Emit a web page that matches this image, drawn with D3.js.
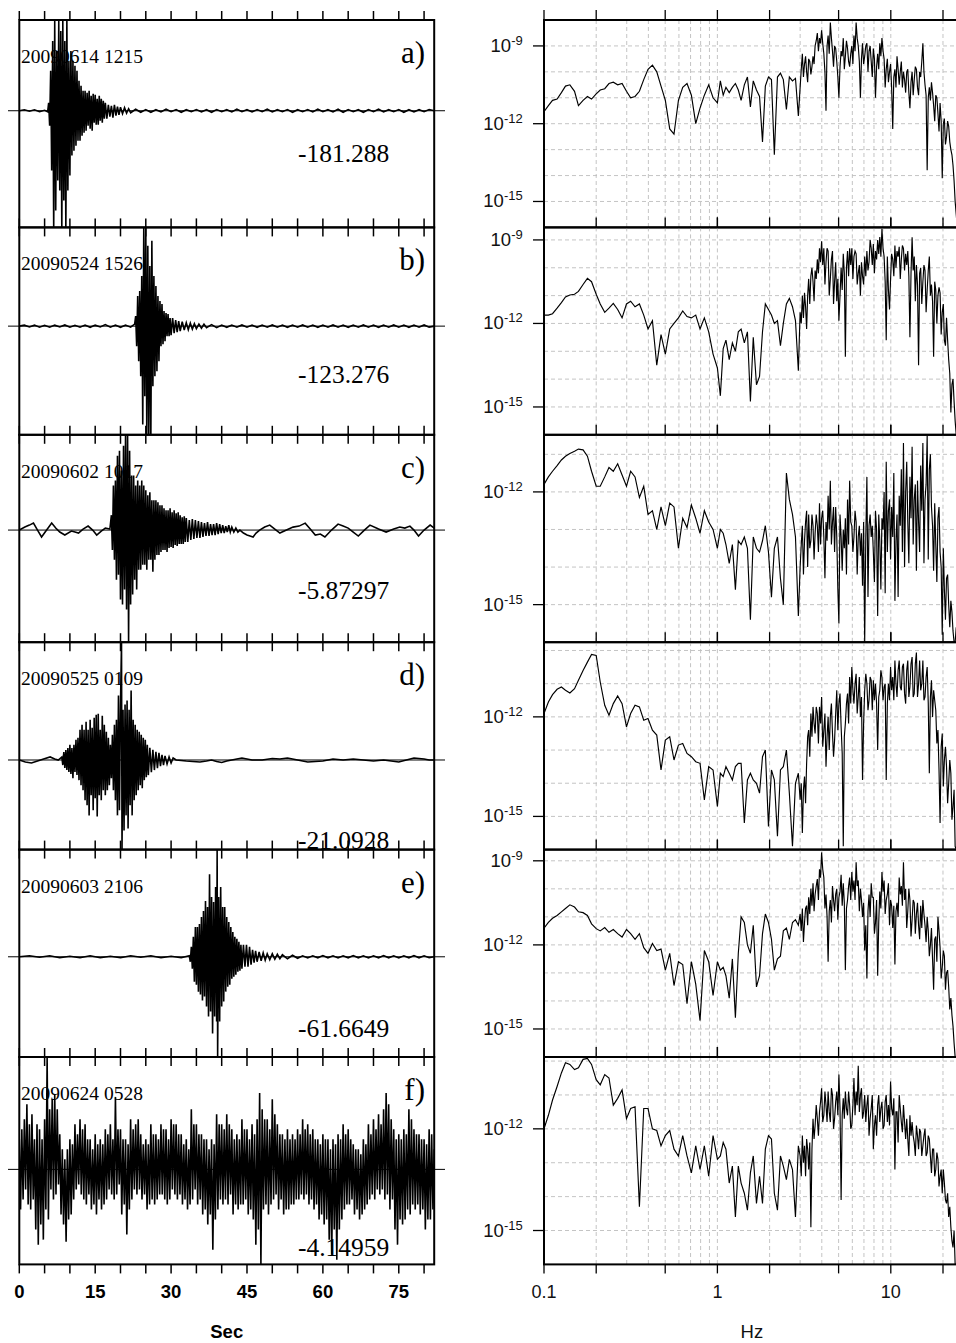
<!DOCTYPE html>
<html><head><meta charset="utf-8">
<script src="https://cdn.jsdelivr.net/npm/d3@7"></script>
<style>body{margin:0;background:#fff}svg{display:block}</style>
</head><body>
<svg id="chart" width="956" height="1343"></svg>
<script>
// ---------------- DATA ----------------
const eventLabels = ["20090614 1215","20090524 1526","20090602 1017","20090525 0109","20090603 2106","20090624 0528"];
const panelLetters = ["a)","b)","c)","d)","e)","f)"];
const traceMins = ["-181.288","-123.276","-5.87297","-21.0928","-61.6649","-4.14959"];
const secTicks = [0,15,30,45,60,75];
const hzTicks = [0.1,1,10];
const hzMinorTicks = [0.1,0.2,0.5,1,2,5,10,20];
const hzGrid = [0.2,0.3,0.4,0.5,0.6,0.7,0.8,0.9,1,2,3,4,5,6,7,8,9,10,20];

// amplitude range of each seismogram panel (normalised units)
const ampTop    = [0.91, 0.984, 0.96, 1.17, 1.077, 1.12];
const ampBottom = [-1.17, -1.083, -1.13, -0.89, -1.007, -0.947];
// log10 range of each spectrum panel
const specTop = [-8, -8.55, -10.48, -9.75, -8.6, -9.88];
const specBottom = -16;

// seismograms: [time s, amplitude]
const traceA = [[0,0],[1,0.01],[2,-0.005],[3,0.01],[4,-0.01],[5,0.005],[5.6,-0.01],[5.8,0.08],[6.0,-0.15],[6.2,0.4],[6.4,-0.6],[6.6,0.7],[6.8,-1.2],[7.0,0.9],[7.2,-1.0],[7.4,0.6],[7.6,-0.7],[7.8,0.9],[8.0,-0.8],[8.2,0.8],[8.4,-1.2],[8.6,0.9],[8.8,-0.9],[9.0,0.7],[9.2,-1.2],[9.4,0.9],[9.6,-0.8],[9.8,0.5],[10.0,-0.65],[10.2,0.6],[10.4,-0.45],[10.6,0.5],[10.8,-0.4],[11.0,0.45],[11.2,-0.35],[11.4,0.4],[11.6,-0.3],[11.8,0.3],[12.0,-0.3],[12.2,0.25],[12.4,-0.25],[12.6,0.2],[12.8,-0.22],[13.0,0.2],[13.2,-0.2],[13.4,0.18],[13.6,-0.15],[13.8,0.2],[14.0,-0.18],[14.2,0.15],[14.4,-0.2],[14.6,0.17],[14.8,-0.12],[15.0,0.16],[15.2,-0.14],[15.4,0.12],[15.6,-0.14],[15.8,0.15],[16.0,-0.1],[16.2,0.12],[16.4,-0.12],[16.6,0.1],[16.8,-0.08],[17.0,0.08],[17.3,-0.08],[17.6,0.06],[17.9,-0.06],[18.2,0.05],[18.5,-0.07],[18.8,0.06],[19.1,-0.05],[19.4,0.04],[19.7,-0.04],[20.0,0.035],[20.4,-0.03],[20.8,0.03],[21.2,-0.025],[21.6,0.02],[22.0,-0.02],[23,0.015],[24,-0.015],[25,0.012],[26,-0.015],[27,0.01],[28,-0.012],[29,0.015],[30,-0.01],[31,0.012],[32,-0.015],[33,0.01],[34,-0.01],[35,0.012],[36,-0.012],[37,0.01],[38,-0.015],[39,0.012],[40,-0.01],[41,0.01],[42,-0.012],[43,0.015],[44,-0.01],[45,0.01],[46,-0.012],[47,0.012],[48,-0.01],[49,0.015],[50,-0.012],[51,0.01],[52,-0.01],[53,0.012],[54,-0.015],[55,0.01],[56,-0.01],[57,0.012],[58,-0.012],[59,0.015],[60,-0.01],[61,0.01],[62,-0.012],[63,0.015],[64,-0.015],[65,0.012],[66,-0.01],[67,0.01],[68,-0.015],[69,0.012],[70,-0.01],[71,0.015],[72,-0.012],[73,0.01],[74,-0.01],[75,0.012],[76,-0.015],[77,0.01],[78,-0.012],[79,0.01],[80,-0.01],[81,0.012],[82,0]];

const traceB = [[0,0],[1,0.01],[2,-0.008],[3,0.01],[4,-0.01],[5,0.008],[6,-0.01],[7,0.01],[8,-0.008],[9,0.012],[10,-0.01],[11,0.008],[12,-0.01],[13,0.01],[14,-0.012],[15,0.01],[16,-0.008],[17,0.015],[18,-0.01],[19,0.01],[20,-0.012],[21,0.01],[22,-0.01],[22.8,0.02],[23.0,0.1],[23.2,-0.2],[23.4,0.3],[23.6,-0.35],[23.8,0.35],[24.0,-0.5],[24.2,0.5],[24.4,-0.98],[24.6,0.99],[24.8,-0.7],[25.0,0.99],[25.2,-1.1],[25.4,0.8],[25.6,-1.1],[25.8,0.6],[26.0,-1.1],[26.2,0.85],[26.4,-0.6],[26.6,0.5],[26.8,-0.5],[27.0,0.4],[27.2,-0.45],[27.4,0.3],[27.6,-0.35],[27.8,0.25],[28.0,-0.2],[28.2,0.22],[28.4,-0.18],[28.6,0.15],[28.8,-0.15],[29.0,0.13],[29.2,-0.1],[29.4,0.12],[29.6,-0.1],[29.8,0.08],[30.0,-0.09],[30.3,0.08],[30.6,-0.07],[30.9,0.06],[31.2,-0.06],[31.5,0.05],[31.8,-0.05],[32.2,0.045],[32.6,-0.04],[33.0,0.035],[33.4,-0.035],[33.8,0.03],[34.2,-0.03],[34.6,0.025],[35.0,-0.025],[35.5,0.02],[36.0,-0.02],[36.5,0.02],[37,-0.015],[38,0.015],[39,-0.015],[40,0.01],[41,-0.012],[42,0.01],[43,-0.01],[44,0.012],[45,-0.01],[46,0.01],[47,-0.012],[48,0.01],[49,-0.01],[50,0.012],[51,-0.01],[52,0.01],[53,-0.012],[54,0.01],[55,-0.01],[56,0.012],[57,-0.01],[58,0.01],[59,-0.012],[60,0.01],[61,-0.01],[62,0.012],[63,-0.01],[64,0.01],[65,-0.012],[66,0.01],[67,-0.01],[68,0.012],[69,-0.01],[70,0.01],[71,-0.012],[72,0.01],[73,-0.01],[74,0.012],[75,-0.01],[76,0.01],[77,-0.012],[78,0.01],[79,-0.01],[80,0.012],[81,-0.01],[82,0]];

const traceC = [[0,0],[1.1,0.03],[2.0,0.05],[2.8,0.07],[3.6,0.0],[4.4,-0.07],[5.4,0.0],[6.4,0.07],[7.2,0.02],[8.0,-0.02],[9.0,-0.05],[10.3,-0.01],[11.0,-0.02],[11.7,-0.03],[12.6,0.01],[13.6,0.04],[14.5,0.0],[15.3,-0.05],[16.2,-0.01],[17.0,0.02],[17.9,0.01],[18.2,0.15],[18.4,-0.2],[18.6,0.45],[18.8,-0.3],[19.0,0.5],[19.2,-0.5],[19.4,0.75],[19.6,-0.45],[19.8,0.8],[20.0,-0.7],[20.2,0.6],[20.4,-0.75],[20.6,0.85],[20.8,-0.6],[21.0,0.96],[21.2,-0.8],[21.4,0.96],[21.6,-1.13],[21.8,0.8],[22.0,-0.75],[22.2,0.55],[22.4,-0.65],[22.6,0.55],[22.8,-0.5],[23.0,0.45],[23.2,-0.6],[23.4,0.5],[23.6,-0.4],[23.8,0.45],[24.0,-0.4],[24.2,0.5],[24.4,-0.35],[24.6,0.45],[24.8,-0.35],[25.0,0.4],[25.2,-0.4],[25.4,0.35],[25.6,-0.3],[25.8,0.38],[26.0,-0.3],[26.2,0.3],[26.4,-0.42],[26.6,0.3],[26.8,-0.3],[27.0,0.3],[27.2,-0.25],[27.4,0.28],[27.6,-0.25],[27.8,0.25],[28.0,-0.22],[28.2,0.25],[28.4,-0.2],[28.6,0.22],[28.8,-0.2],[29.0,0.2],[29.2,-0.22],[29.4,0.2],[29.6,-0.18],[29.8,0.22],[30.0,-0.17],[30.2,0.18],[30.4,-0.18],[30.6,0.2],[30.8,-0.15],[31.0,0.17],[31.2,-0.16],[31.4,0.18],[31.6,-0.14],[31.8,0.15],[32.0,-0.14],[32.2,0.13],[32.4,-0.14],[32.6,0.14],[32.8,-0.12],[33.0,0.12],[33.3,-0.12],[33.6,0.1],[33.9,-0.1],[34.2,0.11],[34.5,-0.09],[34.8,0.1],[35.1,-0.08],[35.4,0.09],[35.7,-0.08],[36.0,0.08],[36.3,-0.07],[36.6,0.07],[36.9,-0.06],[37.2,0.08],[37.5,-0.06],[37.8,0.06],[38.1,-0.05],[38.4,0.06],[38.7,-0.05],[39.0,0.07],[39.3,-0.04],[39.6,0.06],[39.9,-0.03],[40.2,0.05],[40.5,-0.03],[40.8,0.04],[41.1,-0.02],[41.4,0.05],[41.7,-0.02],[42.0,0.03],[42.4,-0.02],[42.8,0.02],[43.2,-0.02],[43.6,0.0],[44.3,-0.03],[45.0,-0.05],[45.6,-0.06],[46.2,-0.07],[46.8,-0.03],[47.5,0.0],[48.5,0.03],[49.5,0.05],[50.5,0.01],[51.5,-0.03],[52.8,0.0],[54.1,0.03],[55.3,0.04],[56.5,0.07],[57.5,0.01],[58.5,-0.05],[59.5,-0.04],[60.4,-0.07],[61.7,0.0],[63.0,0.06],[64.0,0.04],[65.0,0.02],[66.0,-0.02],[67.0,-0.06],[68.2,0.0],[69.3,0.05],[71.0,0.01],[72.5,-0.02],[74.0,0.01],[75.2,0.03],[76.2,0.02],[77.2,0.04],[78.0,0.0],[78.9,-0.06],[80.0,0.0],[81.2,0.05],[82,0.02]];

const traceD = [[0,0],[1.2,-0.02],[2.4,-0.03],[3.6,-0.01],[4.8,0.01],[6.1,0.03],[7.0,0.01],[7.7,0.0],[8.4,0.03],[8.6,-0.05],[8.8,0.08],[9.0,-0.08],[9.2,0.1],[9.4,-0.1],[9.6,0.12],[9.8,-0.12],[10.0,0.15],[10.2,-0.14],[10.4,0.12],[10.6,-0.18],[10.8,0.15],[11.0,-0.12],[11.2,0.2],[11.4,-0.15],[11.6,0.22],[11.8,-0.2],[12.0,0.3],[12.2,-0.25],[12.4,0.35],[12.6,-0.3],[12.8,0.3],[13.0,-0.4],[13.2,0.38],[13.4,-0.45],[13.6,0.3],[13.8,-0.55],[14.0,0.4],[14.2,-0.35],[14.4,0.32],[14.6,-0.5],[14.8,0.42],[15.0,-0.38],[15.2,0.45],[15.4,-0.56],[15.6,0.46],[15.8,-0.35],[16.0,0.3],[16.2,-0.4],[16.4,0.44],[16.6,-0.3],[16.8,0.35],[17.0,-0.35],[17.2,0.28],[17.4,-0.3],[17.6,0.22],[17.8,-0.25],[18.0,0.15],[18.2,-0.18],[18.4,0.25],[18.6,-0.3],[18.8,0.35],[19.0,-0.4],[19.2,0.4],[19.4,-0.55],[19.6,0.64],[19.8,-0.5],[20.0,0.55],[20.2,1.17],[20.3,-0.89],[20.5,0.5],[20.7,-0.7],[20.9,0.55],[21.1,-0.55],[21.3,0.59],[21.5,-0.68],[21.7,0.5],[21.9,-0.45],[22.1,0.69],[22.3,-0.55],[22.5,0.4],[22.7,-0.4],[22.9,0.35],[23.1,-0.35],[23.3,0.3],[23.5,-0.3],[23.7,0.28],[23.9,-0.25],[24.1,0.25],[24.3,-0.28],[24.5,0.22],[24.7,-0.2],[24.9,0.2],[25.1,-0.17],[25.3,0.15],[25.5,-0.15],[25.8,0.12],[26.1,-0.12],[26.4,0.1],[26.7,-0.1],[27.0,0.08],[27.3,-0.08],[27.6,0.07],[27.9,-0.06],[28.2,0.05],[28.5,-0.05],[28.8,0.04],[29.2,-0.04],[29.6,0.03],[30.0,-0.03],[30.4,0.02],[31,0.0],[32,-0.005],[33,-0.01],[34.3,-0.015],[35.7,-0.02],[37,-0.01],[38,0.0],[39,-0.015],[40,-0.025],[41,-0.01],[42,0.0],[43,0.01],[44,0.02],[45,0.01],[46,0.0],[48,0.0],[50,0.015],[51.5,0.01],[53,0.02],[54,0.01],[55,0.0],[56,-0.01],[57,-0.02],[58.5,-0.015],[60,-0.01],[62,0.01],[64,0.0],[66,0.01],[68,0.0],[70,-0.01],[72,0.0],[73.5,-0.01],[75,-0.02],[76.5,0.0],[78,0.02],[80,0.01],[81,0.0],[82,0]];

const traceE = [[0,0],[2,0.01],[4,-0.005],[6,0.01],[8,-0.01],[10,0.005],[12,-0.01],[14,0.01],[16,-0.01],[18,0.005],[20,-0.01],[22,0.01],[24,-0.005],[26,0.01],[28,-0.01],[30,0.005],[32,-0.01],[33.6,0.01],[33.8,-0.05],[34.0,0.1],[34.2,-0.12],[34.4,0.2],[34.6,-0.25],[34.8,0.3],[35.0,-0.28],[35.2,0.3],[35.4,-0.35],[35.6,0.33],[35.8,-0.38],[36.0,0.4],[36.2,-0.44],[36.4,0.46],[36.6,-0.4],[36.8,0.56],[37.0,-0.5],[37.2,0.5],[37.4,-0.6],[37.6,0.83],[37.8,-0.55],[38.0,0.6],[38.2,-0.77],[38.4,0.55],[38.6,-0.6],[38.8,0.7],[39.0,-0.65],[39.1,1.08],[39.2,-1.0],[39.4,0.6],[39.6,-0.65],[39.8,0.7],[40.0,-0.5],[40.2,0.5],[40.4,-0.45],[40.6,0.5],[40.8,-0.35],[41.0,0.4],[41.2,-0.3],[41.4,0.35],[41.6,-0.28],[41.8,0.3],[42.0,-0.22],[42.2,0.25],[42.4,-0.2],[42.6,0.2],[42.8,-0.18],[43.0,0.18],[43.2,-0.15],[43.4,0.15],[43.6,-0.14],[43.8,0.12],[44.0,-0.12],[44.3,0.12],[44.6,-0.1],[44.9,0.12],[45.2,-0.1],[45.5,0.1],[45.8,-0.08],[46.1,0.07],[46.4,-0.06],[46.7,0.06],[47.0,-0.05],[47.4,0.05],[47.8,-0.04],[48.2,0.04],[48.6,-0.035],[49.0,0.03],[49.5,-0.03],[50,0.03],[50.5,-0.025],[51,0.025],[51.5,-0.02],[52,0.02],[53,-0.02],[54,0.015],[55,-0.015],[56,0.01],[57,-0.012],[58,0.01],[59,-0.01],[60,0.012],[61,-0.01],[62,0.01],[63,-0.012],[64,0.01],[65,-0.01],[66,0.012],[67,-0.01],[68,0.01],[69,-0.012],[70,0.01],[71,-0.01],[72,0.012],[73,-0.01],[74,0.01],[75,-0.012],[76,0.01],[77,-0.01],[78,0.012],[79,-0.01],[80,0.01],[81,-0.01],[82,0]];

// trace f: background noise, one value every traceFDt seconds
const traceFDt = 0.25;
const traceF = [
.3,-.4,.4,-.3, .5,-.2,.65,-.35, .45,-.4,.55,-.3, .3,-.6,.45,-.75, .4,-.55,.3,-.7,
.5,-.4,1.12,-.5, .6,-.2,.7,-.3, .75,-.25,.6,-.15, .35,-.45,.2,-.55, .1,-.72,.2,-.5,
.3,-.45,.25,-.3, .45,-.2,.35,-.15, .5,-.25,.4,-.3, .45,-.35,.3,-.25, .3,-.4,.2,-.35,
.35,-.45,.25,-.3, .3,-.4,.25,-.35, .4,-.3,.35,-.2, .45,-.25,.3,-.3, .72,-.25,.4,-.15,
.4,-.45,.3,-.35, .3,-.65,.25,-.4, .5,-.3,.4,-.2, .45,-.25,.5,-.2, .35,-.3,.25,-.25,
.3,-.4,.25,-.35, .45,-.3,.35,-.35, .35,-.3,.3,-.25, .45,-.25,.4,-.3, .4,-.35,.3,-.3,
.5,-.2,.45,-.25, .45,-.3,.35,-.25, .35,-.35,.25,-.3, .3,-.4,.2,-.35, .6,-.3,.45,-.2,
.45,-.35,.35,-.3, .35,-.45,.3,-.4, .3,-.55,.2,-.45, .3,-.8,.25,-.5, .55,-.4,.45,-.3,
.45,-.35,.4,-.3, .55,-.35,.45,-.25, .4,-.45,.3,-.35, .35,-.4,.3,-.35, .5,-.35,.4,-.3,
.4,-.45,.3,-.4, .45,-.5,.35,-.75, .5,-.6,.76,-.95, .6,-.4,.5,-.35, .5,-.45,.4,-.35,
.7,-.3,.55,-.25, .45,-.4,.35,-.3, .35,-.45,.3,-.4, .4,-.4,.3,-.35, .35,-.35,.3,-.3,
.4,-.3,.35,-.25, .5,-.3,.4,-.25, .45,-.35,.35,-.3, .4,-.4,.3,-.35, .3,-.5,.25,-.45,
.35,-.55,.3,-.5, .3,-.7,.2,-.85, .3,-.6,.25,-.9, .35,-.6,.3,-.5, .45,-.4,.35,-.35,
.4,-.35,.3,-.3, .25,-.45,.2,-.4, .2,-.5,.15,-.45, .3,-.4,.25,-.35, .45,-.3,.35,-.25,
.5,-.3,.4,-.2, .55,-.25,.45,-.2, .6,-.3,.76,-.25, .65,-.4,.5,-.3, .4,-.6,.3,-.75,
.35,-.5,.3,-.55, .4,-.5,.35,-.4, .6,-.45,.5,-.35, .4,-.4,.35,-.35, .35,-.45,.3,-.4,
.3,-.6,.25,-.5, .4,-.5,.35,-.4, .2];

// spectra: frequency list (Hz) and log10 amplitude per panel
const freqs = [
0.1,0.106,0.112,0.119,0.126,0.133,0.141,0.15,0.158,0.168,
0.178,0.188,0.2,0.211,0.224,0.237,0.251,0.266,0.282,0.299,
0.316,0.335,0.355,0.376,0.398,0.422,0.447,0.473,0.501,0.531,
0.562,0.596,0.631,0.668,0.708,0.75,0.794,0.841,0.891,0.944,
1,1.04,1.08,1.12,1.17,1.22,1.27,1.32,1.37,1.43,
1.49,1.55,1.61,1.68,1.75,1.82,1.89,1.97,2.05,2.13,
2.22,2.31,2.4,2.5,2.6,2.71,2.82,2.93,3,3.09,
3.18,3.27,3.36,3.46,3.56,3.66,3.77,3.88,3.99,4.11,
4.23,4.35,4.48,4.61,4.74,4.88,5.02,5.17,5.32,5.47,
5.63,5.79,5.96,6.13,6.31,6.49,6.68,6.87,7.07,7.28,
7.49,7.71,7.93,8.16,8.4,8.64,8.89,9.15,9.41,9.69,
9.97,10.26,10.56,10.86,11.18,11.5,11.83,12.18,12.53,12.89,
13.27,13.65,14.05,14.46,14.87,15.31,15.75,16.21,16.68,17.16,
17.66,18.17,18.7,19.24,19.8,20.37,20.96,21.57,22.2,22.84,
23.5,24.18,24.88];
// extra high-frequency samples (between the 3-25 Hz ones above)
const freqsMid = [
3.045,3.135,3.225,3.315,3.41,3.51,3.61,3.715,3.825,3.935,
4.05,4.17,4.29,4.415,4.545,4.675,4.81,4.95,5.095,5.245,
5.395,5.55,5.71,5.875,6.045,6.22,6.4,6.585,6.775,6.97,
7.175,7.385,7.6,7.82,8.045,8.28,8.52,8.765,9.02,9.28,
9.55,9.83,10.11,10.41,10.71,11.02,11.34,11.665,12.005,12.355,
12.71,13.08,13.46,13.85,14.255,14.665,15.09,15.53,15.98,16.445,
16.92,17.41,17.915,18.435,18.97,19.52,20.085,20.665,21.265,21.885,
22.52,23.17,23.84,24.53];

const specA = [
-11.54,-11.3,-11.1,-11.05,-10.8,-10.55,-10.5,-10.75,-11.3,-11.1,
-10.95,-11.05,-10.85,-10.7,-10.65,-10.45,-10.4,-10.5,-10.45,-10.75,
-11.0,-10.95,-10.75,-10.3,-9.9,-9.74,-10.0,-10.55,-11.1,-12.2,
-12.4,-11.1,-10.6,-10.45,-10.9,-12.0,-11.4,-10.9,-10.5,-11.0,
-11.2,-10.35,-10.9,-10.6,-10.8,-10.6,-10.45,-10.7,-11.1,-10.5,
-10.2,-11.35,-10.35,-10.7,-10.95,-12.7,-10.55,-10.2,-10.3,-13.2,
-10.2,-10.05,-10.3,-11.45,-10.2,-10.35,-10.25,-11.7,-10.6,-9.3,
-9.7,-10.0,-9.5,-10.1,-9.4,-9.0,-8.5,-8.7,-8.4,-9.3,
-11.5,-8.6,-8.1,-9.2,-9.0,-9.6,-11.0,-9.2,-8.7,-9.4,
-9.1,-9.8,-9.0,-8.6,-8.1,-9.0,-11.0,-8.9,-9.4,-8.9,
-9.2,-9.6,-9.1,-11.0,-9.3,-8.9,-8.7,-9.5,-9.9,-10.4,
-9.7,-12.2,-9.9,-9.4,-10.5,-9.6,-10.0,-10.8,-9.9,-11.4,
-10.0,-10.3,-9.9,-10.9,-10.2,-8.9,-10.5,-13.8,-10.6,-10.4,
-11.3,-10.9,-11.6,-11.2,-14.1,-11.8,-12.5,-12.1,-13.0,-13.6,
-15.0,-16.0,-16.0];
const specAMid = [
-9.9,-10.2,-9.4,-10.4,-9.6,-9.8,-9.7,-8.8,-9.2,-8.9,
-8.9,-10.0,-9.0,-9.3,-8.7,-9.8,-9.1,-10.2,-9.8,-9.4,
-9.9,-8.8,-9.6,-9.3,-9.7,-9.2,-8.7,-9.6,-9.5,-9.7,
-9.0,-10.0,-9.0,-10.2,-9.5,-9.8,-9.9,-9.4,-9.2,-10.6,
-9.5,-10.0,-10.6,-10.2,-10.6,-9.9,-10.0,-10.6,-10.3,-10.0,
-10.8,-10.4,-10.9,-9.8,-10.6,-10.0,-9.6,-10.0,-10.9,-11.0,
-11.1,-10.8,-11.9,-11.0,-12.3,-11.9,-12.0,-12.8,-11.9,-12.7,
-13.2,-14.2,-15.5,-16];

const specB = [
-11.7,-11.7,-11.65,-11.45,-11.25,-11.05,-10.98,-10.95,-10.85,-10.6,
-10.38,-10.5,-10.95,-11.3,-11.6,-11.45,-11.28,-11.5,-11.8,-11.3,
-11.2,-11.4,-11.3,-11.7,-12.2,-11.9,-13.5,-12.4,-13.1,-12.2,
-12.0,-11.8,-11.55,-11.75,-11.8,-11.7,-12.2,-11.8,-12.3,-13.1,
-13.6,-14.6,-12.9,-12.6,-13.3,-12.7,-13.0,-12.3,-12.2,-12.7,
-12.3,-14.8,-12.5,-14.2,-13.9,-12.3,-11.3,-11.5,-11.7,-12.0,
-11.9,-12.8,-12.0,-11.3,-11.1,-11.4,-11.9,-13.7,-11.6,-11.0,
-10.9,-12.2,-10.4,-10.3,-10.5,-10.1,-9.7,-9.3,-9.05,-9.3,
-9.8,-9.4,-10.4,-9.4,-10.5,-11.2,-11.9,-10.0,-9.5,-13.2,
-9.4,-9.3,-9.3,-9.6,-9.5,-10.2,-11.0,-10.3,-9.6,-9.4,
-9.8,-9.3,-9.15,-9.4,-9.0,-8.9,-8.6,-9.6,-12.6,-10.8,
-10.4,-9.7,-9.2,-9.4,-9.25,-9.7,-9.3,-9.5,-9.4,-12.5,
-8.9,-9.6,-9.9,-13.5,-10.0,-10.5,-10.1,-10.8,-9.6,-10.6,
-13.2,-10.8,-11.0,-10.9,-11.6,-12.6,-11.8,-13.3,-15.2,-14.0,
-15.5,-16,-16];
const specBMid = [
-12.0,-11.8,-11.4,-11.0,-11.3,-10.0,-11.2,-10.4,-10.2,-9.8,
-9.9,-10.6,-9.3,-11.0,-9.7,-11.3,-9.8,-10.4,-11.0,-10.8,
-10.2,-10.0,-10.3,-9.9,-10.4,-9.4,-10.6,-9.9,-9.8,-10.6,
-10.3,-10.1,-9.0,-9.9,-10.2,-9.7,-9.5,-9.6,-9.3,-10.5,
-9.6,-11.5,-9.5,-10.3,-10.0,-9.6,-10.4,-9.2,-10.1,-9.9,
-10.3,-10.2,-10.1,-11.2,-10.6,-10.2,-11.3,-9.9,-11.6,-10.1,
-11.0,-11.2,-10.5,-12.0,-10.7,-12.4,-11.3,-12.8,-12.6,-13.8,
-14.2,-14.8,-16,-16];

const specC = [
-11.8,-11.6,-11.45,-11.3,-11.15,-11.05,-10.98,-10.92,-10.86,-10.88,
-11.05,-11.45,-11.85,-11.85,-11.6,-11.35,-11.45,-11.25,-11.55,-11.85,
-11.45,-11.6,-12.15,-11.85,-12.6,-12.5,-13.0,-12.4,-12.9,-12.3,
-12.4,-13.5,-12.7,-12.95,-12.35,-12.7,-13.1,-12.5,-12.8,-13.0,
-13.5,-13.0,-13.1,-13.4,-13.9,-13.4,-14.6,-13.3,-13.4,-13.2,
-13.5,-15.4,-13.2,-13.5,-13.6,-13.3,-12.9,-13.6,-14.8,-13.5,
-13.2,-14.3,-15.0,-11.5,-12.2,-12.6,-13.2,-15.3,-14.0,-12.9,
-13.3,-12.5,-12.6,-13.3,-12.9,-13.1,-12.9,-12.3,-12.7,-13.2,
-12.8,-12.1,-11.7,-12.8,-13.6,-13.2,-15.5,-13.2,-13.0,-12.7,
-12.2,-11.7,-12.9,-13.2,-12.8,-13.2,-13.7,-14.5,-16.0,-11.6,
-12.9,-13.2,-13.6,-12.5,-15.3,-13.3,-12.7,-12.0,-11.2,-12.5,
-13.8,-13.2,-14.9,-12.6,-12.1,-11.4,-10.7,-12.0,-12.8,-11.6,
-10.8,-12.2,-14.1,-12.8,-11.3,-10.7,-12.2,-10.5,-11.4,-12.4,
-14.1,-13.4,-12.7,-13.6,-15.8,-14.6,-14.3,-15.0,-14.9,-15.7,
-16,-16,-16];
const specCMid = [
-13.4,-14.2,-12.8,-14.0,-13.5,-12.6,-13.8,-12.6,-13.6,-13.4,
-12.5,-14.3,-13.3,-13.0,-13.4,-12.4,-12.4,-14.6,-12.6,-14.1,
-13.5,-14.2,-13.4,-12.8,-13.6,-12.5,-14.2,-12.9,-13.1,-12.8,
-13.2,-14.8,-12.6,-12.9,-14.4,-13.0,-12.6,-14.6,-13.0,-14.7,
-13.6,-12.2,-12.4,-11.5,-13.3,-14.8,-12.9,-13.6,-14.0,-11.2,
-13.9,-12.7,-13.4,-11.8,-11.7,-13.6,-12.5,-13.9,-11.8,-13.8,
-11.0,-12.9,-12.3,-14.4,-12.4,-14.0,-13.5,-15.4,-14.2,-15.6,
-15.2,-16,-15.6,-16];

const specD = [
-11.9,-11.55,-11.33,-11.17,-11.1,-11.2,-11.28,-11.15,-10.9,-10.6,
-10.35,-10.12,-10.15,-10.95,-11.65,-11.95,-11.6,-11.37,-11.6,-12.3,
-11.9,-11.65,-11.7,-12.1,-12.05,-12.4,-12.55,-13.6,-12.7,-12.6,
-13.3,-12.85,-12.8,-13.1,-13.2,-13.35,-13.4,-14.5,-13.5,-13.6,
-14.7,-13.7,-13.8,-13.5,-13.7,-13.9,-13.5,-13.4,-13.4,-15.2,
-13.9,-13.7,-13.9,-14.0,-14.3,-13.2,-13.0,-15.3,-13.6,-13.9,
-15.6,-13.6,-13.5,-13.0,-14.3,-15.9,-14.0,-13.7,-14.5,-15.5,
-13.8,-13.4,-12.4,-11.9,-11.7,-12.5,-11.9,-11.7,-11.4,-12.4,
-13.5,-12.0,-12.0,-12.5,-12.7,-11.2,-11.6,-12.3,-15.9,-12.2,
-11.3,-10.8,-10.5,-11.6,-10.7,-11.4,-12.0,-13.9,-11.2,-11.0,
-11.5,-10.9,-10.9,-11.0,-13.0,-11.2,-10.8,-11.1,-13.9,-11.0,
-10.5,-10.8,-10.3,-11.4,-10.3,-11.2,-10.4,-11.6,-10.3,-11.1,
-10.2,-11.3,-10.06,-11.0,-11.2,-10.3,-11.4,-10.5,-13.7,-10.9,
-11.2,-11.8,-12.4,-15.2,-12.5,-13.3,-13.5,-14.0,-13.7,-14.7,
-15.9,-16,-16];
const specDMid = [
-14.0,-14.2,-14.6,-12.6,-13.2,-12.6,-12.2,-11.7,-12.8,-12.2,
-12.9,-11.9,-12.6,-13.0,-11.6,-13.2,-11.9,-12.4,-11.3,-13.1,
-12.6,-11.6,-12.2,-11.6,-11.2,-11.0,-11.9,-10.8,-11.4,-12.2,
-10.7,-11.8,-10.8,-11.8,-11.5,-11.6,-11.4,-10.6,-11.5,-11.0,
-11.6,-11.5,-11.2,-11.5,-11.0,-10.6,-11.1,-10.5,-11.3,-10.6,
-11.4,-10.4,-11.4,-10.4,-11.4,-10.3,-11.0,-11.5,-10.8,-11.6,
-11.4,-12.0,-11.5,-12.8,-13.6,-12.9,-14.1,-12.9,-14.6,-13.3,
-15.1,-14.2,-16,-16];

const specE = [
-11.4,-11.2,-11.05,-10.95,-10.82,-10.7,-10.57,-10.65,-10.82,-10.85,
-10.95,-11.25,-11.42,-11.5,-11.38,-11.55,-11.45,-11.6,-11.72,-11.45,
-11.6,-11.8,-11.6,-12.1,-12.3,-11.95,-12.2,-12.15,-12.9,-12.3,
-13.45,-12.6,-12.7,-14.1,-12.6,-13.4,-14.7,-12.2,-12.6,-13.8,
-12.6,-12.9,-12.8,-13.1,-13.9,-12.5,-14.6,-12.3,-11.0,-11.2,
-12.0,-12.3,-11.3,-13.5,-13.1,-11.6,-10.9,-11.2,-11.8,-12.9,
-12.5,-12.4,-11.5,-11.4,-11.8,-11.2,-11.1,-11.3,-10.9,-10.7,
-11.2,-10.6,-10.3,-10.0,-9.8,-10.2,-9.65,-9.3,-8.7,-9.6,
-10.2,-12.6,-10.4,-9.9,-10.8,-10.0,-10.3,-9.5,-9.8,-12.9,
-10.4,-9.6,-9.4,-9.7,-9.05,-9.7,-10.0,-11.0,-12.2,-13.2,
-10.2,-9.8,-10.3,-11.2,-13.1,-10.1,-9.4,-9.7,-10.4,-9.8,
-10.4,-11.4,-12.7,-10.5,-9.6,-9.9,-9.05,-10.0,-10.8,-10.4,
-11.1,-10.5,-10.9,-11.3,-10.6,-10.4,-11.3,-11.0,-12.4,-11.4,
-13.6,-11.7,-11.0,-12.1,-12.8,-12.4,-13.0,-13.5,-13.9,-14.9,
-16,-16,-16];
const specEMid = [
-11.5,-11.9,-10.7,-11.3,-10.9,-10.6,-10.8,-9.9,-10.4,-9.6,
-9.3,-10.7,-11.0,-10.8,-11.2,-10.4,-10.2,-11.1,-10.1,-10.6,
-10.5,-10.7,-9.9,-10.4,-10.1,-10.4,-9.9,-10.8,-10.4,-10.5,
-11.3,-10.8,-11.0,-10.3,-11.6,-10.4,-11.2,-10.7,-10.1,-10.9,
-10.2,-11.3,-10.6,-10.6,-10.8,-11.0,-10.2,-10.6,-10.4,-11.4,
-10.0,-11.7,-10.4,-11.6,-10.5,-11.8,-11.4,-10.9,-11.9,-11.5,
-12.0,-12.5,-11.8,-12.6,-11.5,-13.2,-12.2,-13.6,-12.9,-14.3,
-14.5,-15.5,-16,-16];

const specF = [
-12.0,-11.6,-11.15,-10.75,-10.35,-10.05,-10.1,-10.25,-10.2,-9.95,
-9.92,-10.1,-10.55,-10.7,-10.4,-10.5,-11.3,-11.1,-10.85,-11.7,
-11.4,-11.35,-14.3,-11.4,-11.4,-12.0,-12.05,-12.5,-12.2,-12.05,
-12.6,-12.8,-12.2,-12.8,-13.3,-12.5,-13.2,-12.5,-13.4,-12.2,
-12.9,-12.8,-12.4,-12.6,-13.6,-13.1,-14.6,-13.1,-13.6,-13.9,
-14.4,-13.3,-12.8,-14.2,-13.4,-14.2,-12.6,-12.2,-12.3,-13.9,
-14.4,-12.8,-13.1,-13.5,-12.9,-13.2,-14.6,-12.5,-12.8,-12.2,
-12.5,-12.3,-13.2,-14.9,-11.7,-11.9,-11.7,-11.5,-10.8,-11.6,
-11.3,-10.9,-11.8,-11.0,-11.7,-10.9,-10.4,-14.1,-11.1,-10.9,
-11.6,-11.3,-11.9,-10.5,-10.9,-10.14,-11.0,-11.7,-11.0,-11.3,
-12.2,-11.4,-12.6,-11.6,-11.3,-11.8,-11.2,-11.9,-11.0,-11.3,
-10.6,-11.6,-13.2,-11.5,-11.0,-11.8,-11.3,-12.3,-12.3,-11.6,
-11.8,-12.4,-11.9,-12.6,-12.1,-12.5,-12.0,-12.7,-12.3,-13.3,
-12.6,-13.2,-12.9,-13.4,-13.9,-13.6,-14.2,-14.6,-14.9,-15.5,
-16,-16,-16];
const specFMid = [
-13.4,-13.0,-13.4,-12.6,-12.4,-12.6,-12.3,-11.3,-12.2,-11.2,
-11.8,-10.9,-11.8,-11.5,-10.8,-12.0,-11.2,-11.6,-11.4,-11.6,
-11.7,-11.4,-10.9,-12.0,-11.3,-11.6,-11.3,-11.5,-10.8,-11.5,
-11.8,-11.0,-11.7,-11.0,-11.9,-12.2,-11.0,-11.4,-12.0,-11.2,
-11.8,-11.9,-11.4,-11.1,-11.5,-12.4,-11.4,-12.1,-11.8,-11.7,
-12.8,-12.2,-12.2,-12.8,-12.2,-12.0,-12.8,-12.2,-12.8,-12.2,
-12.8,-12.6,-13.4,-12.7,-13.7,-13.2,-13.2,-14.1,-13.9,-14.3,
-15.3,-15.0,-16,-16];

// ---------------- LAYOUT ----------------
const valueLabelOffsets = [141.7, 155.7, 164.3, 206.7, 187.7, 198.7];
const panelTop0 = 20, panelH = 207.4;
const leftX0 = 19.3, leftX1 = 434.2;
const rightX0 = 544, rightDecade = 173.4;
const serif = "'Liberation Serif','Times New Roman',serif";
const sans = "'Liberation Sans',Arial,Helvetica,sans-serif";

const svg = d3.select("#chart");
const defs = svg.append("defs");

const xSec = d3.scaleLinear().domain([0, 82]).range([leftX0, leftX1]);
const xHz = d3.scaleLog().domain([0.1, 25]).range([rightX0, rightX0 + rightDecade * Math.log10(250)]);
const rightX1 = xHz(25);

const traces = [traceA, traceB, traceC, traceD, traceE, traceF.map((v, k) => [k * traceFDt, v])];
const specMain = [specA, specB, specC, specD, specE, specF];
const specMid = [specAMid, specBMid, specCMid, specDMid, specEMid, specFMid];
const spectra = specMain.map((s, i) =>
  freqs.map((f, k) => [f, s[k]])
    .concat(freqsMid.map((f, k) => [f, specMid[i][k]]))
    .sort((a, b) => a[0] - b[0]));
const secMinor = d3.range(0, 82, 5);

for (let i = 0; i < 6; i++) {
  const top = panelTop0 + i * panelH, bot = top + panelH;

  // ---------- left: seismogram ----------
  const yAmp = d3.scaleLinear().domain([ampBottom[i], ampTop[i]]).range([bot, top]);
  defs.append("clipPath").attr("id", "cl" + i).append("rect")
    .attr("x", leftX0).attr("y", top).attr("width", leftX1 - leftX0).attr("height", panelH);
  const gl = svg.append("g");
  gl.append("text").attr("x", 21).attr("y", top + 43).attr("font-family", serif)
    .attr("font-size", 19.5).text(eventLabels[i]);
  gl.append("text").attr("x", 425).attr("y", top + 43).attr("text-anchor", "end")
    .attr("font-family", serif).attr("font-size", 31).text(panelLetters[i]);
  gl.append("text").attr("x", 298).attr("y", top + valueLabelOffsets[i]).attr("font-family", serif)
    .attr("font-size", 25.5).text(traceMins[i]);
  gl.append("line").attr("x1", 8).attr("x2", 445).attr("y1", yAmp(0)).attr("y2", yAmp(0))
    .attr("stroke", "#000").attr("stroke-width", 1);
  const tline = d3.line().x(d => xSec(d[0])).y(d => yAmp(d[1]));
  gl.append("path").attr("d", tline(traces[i])).attr("clip-path", `url(#cl${i})`)
    .attr("fill", "none").attr("stroke", "#000").attr("stroke-width", 1.6);
  gl.append("rect").attr("x", leftX0).attr("y", top).attr("width", leftX1 - leftX0).attr("height", panelH)
    .attr("fill", "none").attr("stroke", "#000").attr("stroke-width", 2);
  gl.selectAll(null).data(secMinor).enter().append("line")
    .attr("x1", d => xSec(d)).attr("x2", d => xSec(d)).attr("y1", top - 9).attr("y2", top)
    .attr("stroke", "#000").attr("stroke-width", 1.5);
  gl.selectAll(null).data(secMinor).enter().append("line")
    .attr("x1", d => xSec(d)).attr("x2", d => xSec(d)).attr("y1", bot).attr("y2", bot + 9)
    .attr("stroke", "#000").attr("stroke-width", 1.5);

  // ---------- right: spectrum ----------
  const ySp = d3.scaleLog().domain([Math.pow(10, specBottom), Math.pow(10, specTop[i])]).range([bot, top]);
  defs.append("clipPath").attr("id", "cr" + i).append("rect")
    .attr("x", rightX0).attr("y", top).attr("width", rightX1 - rightX0).attr("height", panelH);
  const gr = svg.append("g");
  const decades = d3.range(specBottom + 1, Math.floor(specTop[i]) + 1).filter(e => e < specTop[i]);
  gr.selectAll(null).data(decades).enter().append("line")
    .attr("x1", rightX0).attr("x2", rightX1).attr("y1", e => ySp(Math.pow(10, e))).attr("y2", e => ySp(Math.pow(10, e)))
    .attr("stroke", "#bdbdbd").attr("stroke-width", 0.9).attr("stroke-dasharray", "4,3");
  gr.selectAll(null).data(hzGrid).enter().append("line")
    .attr("x1", d => xHz(d)).attr("x2", d => xHz(d)).attr("y1", top).attr("y2", bot)
    .attr("stroke", "#bdbdbd").attr("stroke-width", 0.9).attr("stroke-dasharray", "4,3");
  const sline = d3.line().x(d => xHz(d[0])).y(d => ySp(Math.pow(10, d[1])));
  gr.append("path").attr("d", sline(spectra[i])).attr("clip-path", `url(#cr${i})`)
    .attr("fill", "none").attr("stroke", "#000").attr("stroke-width", 1.15);
  gr.append("rect").attr("x", rightX0).attr("y", top).attr("width", rightX1 - rightX0).attr("height", panelH)
    .attr("fill", "none").attr("stroke", "#000").attr("stroke-width", 2);
  gr.selectAll(null).data(hzMinorTicks).enter().append("line")
    .attr("x1", d => xHz(d)).attr("x2", d => xHz(d)).attr("y1", top - 10).attr("y2", top)
    .attr("stroke", "#000").attr("stroke-width", 1.3);
  if (i < 5) {
    gr.selectAll(null).data([1, 10]).enter().append("line")
      .attr("x1", d => xHz(d)).attr("x2", d => xHz(d)).attr("y1", bot - 10).attr("y2", bot)
      .attr("stroke", "#000").attr("stroke-width", 1.3);
  }
  const labelled = decades.filter(e => e % 3 === 0);
  labelled.forEach(e => {
    const yy = ySp(Math.pow(10, e));
    gr.append("line").attr("x1", rightX0 - 11).attr("x2", rightX0).attr("y1", yy).attr("y2", yy)
      .attr("stroke", "#000").attr("stroke-width", 1.3);
    const t = gr.append("text").attr("x", 522.7).attr("y", yy + 6).attr("text-anchor", "end")
      .attr("font-family", sans).attr("font-size", 18.5).attr("fill", "#111");
    t.append("tspan").text("10");
    t.append("tspan").attr("dy", -7).attr("font-size", 13).text("-" + Math.abs(e));
  });

  if (i === 5) {
    gr.selectAll(null).data(hzMinorTicks).enter().append("line")
      .attr("x1", d => xHz(d)).attr("x2", d => xHz(d)).attr("y1", bot).attr("y2", bot + 9)
      .attr("stroke", "#000").attr("stroke-width", 1.3);
    gr.selectAll(null).data(hzTicks).enter().append("text")
      .attr("x", d => xHz(d)).attr("y", 1298.3).attr("text-anchor", "middle")
      .attr("font-family", sans).attr("font-size", 18).attr("fill", "#111").text(d => String(d));
    gl.selectAll(null).data(secTicks).enter().append("text")
      .attr("x", d => xSec(d)).attr("y", 1298.3).attr("text-anchor", "middle")
      .attr("font-family", sans).attr("font-weight", "bold").attr("font-size", 18.5).text(d => String(d));
  }
}

svg.append("text").attr("x", (leftX0 + leftX1) / 2).attr("y", 1338).attr("text-anchor", "middle")
  .attr("font-family", sans).attr("font-weight", "bold").attr("font-size", 18.5).text("Sec");
svg.append("text").attr("x", (rightX0 + rightX1) / 2).attr("y", 1338).attr("text-anchor", "middle")
  .attr("font-family", sans).attr("font-size", 18.5).attr("fill", "#111").text("Hz");
</script>
</body></html>
